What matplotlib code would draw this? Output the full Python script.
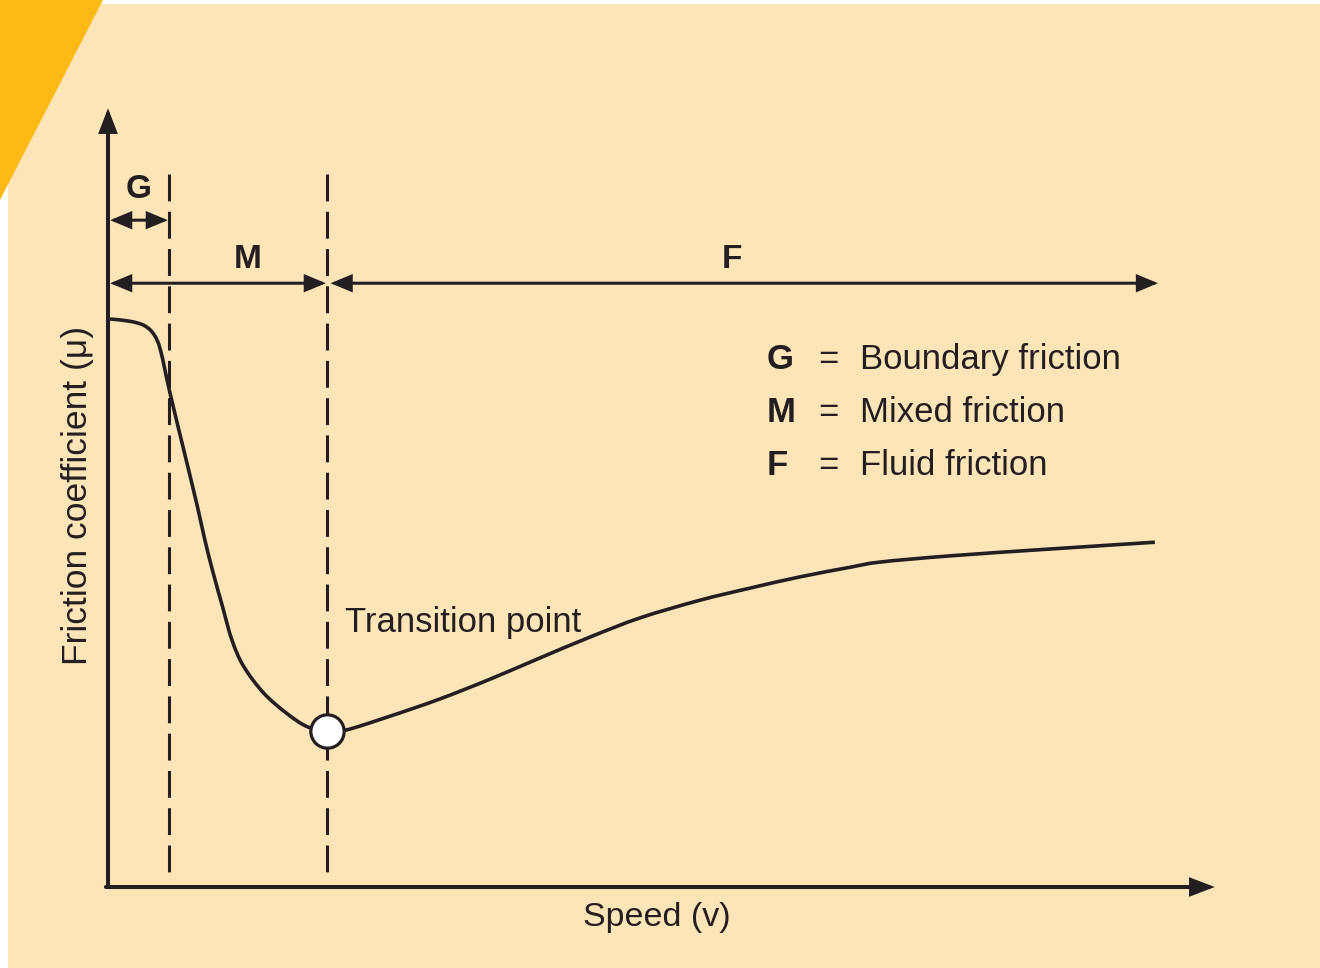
import matplotlib
matplotlib.use("Agg")
import matplotlib.pyplot as plt
import numpy as np
from matplotlib.patches import Rectangle, Polygon, PathPatch
from matplotlib.path import Path

plt.rcParams['font.family'] = ['Liberation Sans', 'DejaVu Sans']

# ---- data (speed in arbitrary units, friction coefficient in arbitrary units) ----
speed = [0.2, 2.1, 3.5, 4.4, 5.0, 5.9, 7.3, 8.5, 9.2, 10.0, 10.9, 11.8, 12.9,
         14.8, 17.0, 19.0, 20.9, 22.6, 26.9, 31.6, 36.4, 41.1, 45.9, 50.7,
         56.4, 61.1, 65.9, 70.7, 73.5, 80.2, 89.7, 99.7]
friction = [100.0, 99.6, 98.8, 97.2, 94.5, 87.0, 76.3, 67.1, 61.3, 55.4, 49.4,
            43.5, 38.9, 34.2, 30.6, 28.2, 27.5, 27.6, 30.1, 33.1, 36.6, 40.3,
            44.0, 47.4, 50.5, 52.6, 54.6, 56.3, 57.2, 58.3, 59.5, 60.7]

transition_speed = 20.9
transition_friction = 27.5
boundary_limit = 5.8
regime_end = 100.0

regime_labels = ["G", "M", "F"]
regime_names = ["Boundary friction", "Mixed friction", "Fluid friction"]
xlabel = "Speed (v)"
ylabel = "Friction coefficient (\u03bc)"
transition_label = "Transition point"

INK = "#231F20"
BEIGE = "#FDE5B8"
ORANGE = "#FDB913"

W, H = 1320, 968
fig = plt.figure(figsize=(W / 100, H / 100), dpi=100, facecolor="white")

# background panel and orange corner
fig.patches.append(Rectangle((8 / W, -0.01), 1.01 - 8 / W, 1.01 - 4 / H,
                             transform=fig.transFigure, facecolor=BEIGE,
                             edgecolor="none", zorder=-2))
fig.patches.append(Polygon([(0, 1), (103 / W, 1), (0, 1 - 200 / H)], closed=True,
                           transform=fig.transFigure, facecolor=ORANGE,
                           edgecolor="none", zorder=-1))

ax = fig.add_axes([0, 0, 1, 1])
ax.set_zorder(5)
ax.patch.set_visible(False)
px_x = 10.5
px_y = 5.68
ax.set_xlim(-108 / px_x, (W - 108) / px_x)
ax.set_ylim((887 - H) / px_y, 887 / px_y)
ax.axis("off")

def arrow(x0, y0, x1, y1, style, lw, hl, hw):
    ax.annotate("", xy=(x1, y1), xytext=(x0, y0),
                arrowprops=dict(arrowstyle=f"{style},head_length={hl},head_width={hw}",
                                lw=lw, color=INK, shrinkA=0, shrinkB=0,
                                mutation_scale=1, joinstyle="miter"),
                zorder=5)

# axes with arrows
arrow(0, 0, 0, 137.1, "-|>", 2.9, 13, 5)
arrow(-0.2, 0, 105.4, 0, "-|>", 2.9, 13, 5)

# dashed boundaries
for xv in [boundary_limit, transition_speed]:
    ax.plot([xv, xv], [125.5, 1.5], color=INK, lw=2.2,
            dashes=(8.8, 3.4), solid_capstyle="butt", dash_capstyle="butt", zorder=3)

# regime arrows
arrow(0.2, 117.4, boundary_limit - 0.1, 117.4, "<|-|>", 2.2, 12, 5)
arrow(0.2, 106.3, transition_speed - 0.15, 106.3, "<|-|>", 2.2, 12, 5)
arrow(transition_speed + 0.3, 106.3, regime_end, 106.3, "<|-|>", 2.2, 12, 5)

bold = dict(fontsize=24, fontweight="bold", color=INK, ha="center", va="baseline")
ax.text(2.95, 121.3, regime_labels[0], **bold)
ax.text(13.3, 109.0, regime_labels[1], **bold)
ax.text(59.4, 109.0, regime_labels[2], **bold)

# Stribeck curve: smooth path through the read points (Catmull-Rom as Bezier)
P = np.column_stack([speed, friction])
verts = [tuple(P[0])]
codes = [Path.MOVETO]
n = len(P)
for i in range(n - 1):
    p0 = P[i - 1] if i > 0 else P[i]
    p1 = P[i]
    p2 = P[i + 1]
    p3 = P[i + 2] if i + 2 < n else P[i + 1]
    c1 = p1 + (p2 - p0) / 6.0
    c2 = p2 - (p3 - p1) / 6.0
    verts += [tuple(c1), tuple(c2), tuple(p2)]
    codes += [Path.CURVE4] * 3
ax.add_patch(PathPatch(Path(verts, codes), facecolor="none", edgecolor=INK,
                       lw=2.6, capstyle="butt", joinstyle="round", zorder=4))
ax.plot([transition_speed], [transition_friction], marker="o", ms=24,
        mfc="white", mec=INK, mew=2.3, zorder=6)

ax.text(22.6, 44.9, transition_label, fontsize=25, color=INK,
        ha="left", va="baseline")

# legend
rows = [91.2, 81.9, 72.5]
for lab, name, yb in zip(regime_labels, regime_names, rows):
    ax.text(62.7, yb, lab, fontsize=25, fontweight="bold", color=INK,
            ha="left", va="baseline")
    ax.text(68.6, yb, "=", fontsize=25, color=INK, ha="center", va="baseline")
    ax.text(71.6, yb, name, fontsize=25, color=INK, ha="left", va="baseline")

# axis labels
ax.text(52.3, -6.9, xlabel, fontsize=24.5, color=INK, ha="center", va="baseline")
ax.text(-2.9, 69.0, ylabel, fontsize=25.5, color=INK, ha="center", va="center",
        rotation=90)

fig.savefig("out.png", dpi=100, facecolor="white")
